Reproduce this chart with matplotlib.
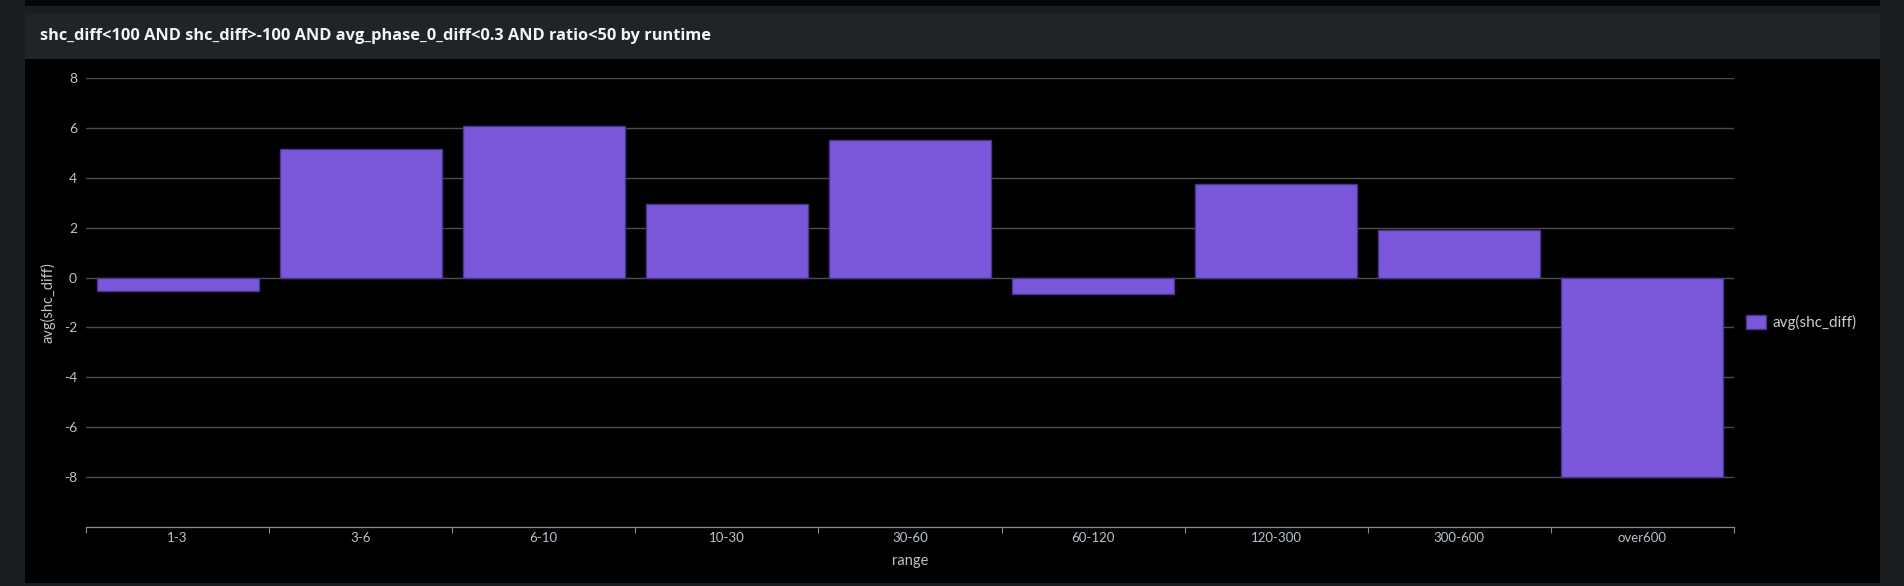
import numpy as np
import matplotlib
matplotlib.use('Agg')
import matplotlib.pyplot as plt
from matplotlib.patches import Rectangle

# datos
rangos = ['1-3', '3-6', '6-10', '10-30', '30-60', '60-120', '120-300', '300-600', 'over600']
avg_shc_diff = [-0.52, 5.15, 6.06, 2.94, 5.50, -0.66, 3.74, 1.89, -8.0]
marcas_y = [-8, -6, -4, -2, 0, 2, 4, 6, 8]

titulo = 'shc_diff<100 AND shc_diff>-100 AND avg_phase_0_diff<0.3 AND ratio<50 by runtime'

W, H = 1904, 586
plt.rcParams['font.family'] = ['Lato', 'DejaVu Sans']
plt.rcParams['axes.unicode_minus'] = False

fig = plt.figure(figsize=(W / 100, H / 100), dpi=100)
fig.patch.set_facecolor('#1a1e21')


def rect(x0, y0, x1, y1, color):
    # coordenadas en pixeles desde arriba a la izquierda
    fig.patches.append(Rectangle((x0 / W, 1 - y1 / H), (x1 - x0) / W, (y1 - y0) / H,
                                 transform=fig.transFigure, facecolor=color,
                                 edgecolor='none', zorder=-5))


rect(25, 0, 1880, 6, '#050505')
rect(25, 13, 1880, 59, '#212427')
rect(25, 59, 1880, 583, '#000000')

fig.text(40 / W, 1 - 36.5 / H, titulo, color='#f2f4f6', fontsize=11.8,
         fontweight='bold', family=['Open Sans', 'DejaVu Sans'],
         ha='left', va='center')

ax = fig.add_axes([86 / W, 1 - 527 / H, (1734 - 86) / W, (527 - 78) / H])
ax.set_zorder(2)
ax.set_facecolor('#000000')

x = np.arange(len(rangos))
ax.bar(x, avg_shc_diff, width=0.885, color='#7b57d9', edgecolor='#4a3590',
       linewidth=1, label='avg(shc_diff)', zorder=3)

ax.set_xlim(-0.5, len(rangos) - 0.5)
ax.set_ylim(-10, 8)
ax.set_yticks(marcas_y)
ax.grid(axis='y', color='#4d4d4d', linewidth=1, zorder=0)
ax.set_axisbelow(True)

ax.set_xticks(x)
ax.set_xticklabels(rangos)
ax.set_xticks(np.arange(-0.5, len(rangos), 1), minor=True)
ax.tick_params(axis='x', which='major', length=0, pad=3.5, labelsize=9.5, labelcolor='#b9c3cd')
ax.tick_params(axis='x', which='minor', length=4.5, width=0.8, color='#8a8a8a')
ax.tick_params(axis='y', length=0, pad=6.5, labelsize=10, labelcolor='#b9c3cd')

for lado in ['top', 'right', 'left']:
    ax.spines[lado].set_visible(False)
ax.spines['bottom'].set_color('#8a8a8a')
ax.spines['bottom'].set_linewidth(0.9)

ax.set_xlabel('range', color='#b9c3cd', fontsize=10.5)
ax.xaxis.set_label_coords(0.5, (527 - 561) / 449)
ax.xaxis.label.set_va('center')
ax.set_ylabel('avg(shc_diff)', color='#b9c3cd', fontsize=10.5)
ax.yaxis.set_label_coords((48 - 86) / 1648, 0.5)
ax.yaxis.label.set_va('center')

ax.legend(loc='center left', bbox_to_anchor=(1746 / W, 1 - 322.5 / H),
          bbox_transform=fig.transFigure, frameon=False, fontsize=11,
          labelcolor='#c8d0d8', handlelength=1.3, handleheight=1.0,
          handletextpad=0.45, borderpad=0, borderaxespad=0)

fig.savefig('out.png', dpi=100, facecolor=fig.get_facecolor())
